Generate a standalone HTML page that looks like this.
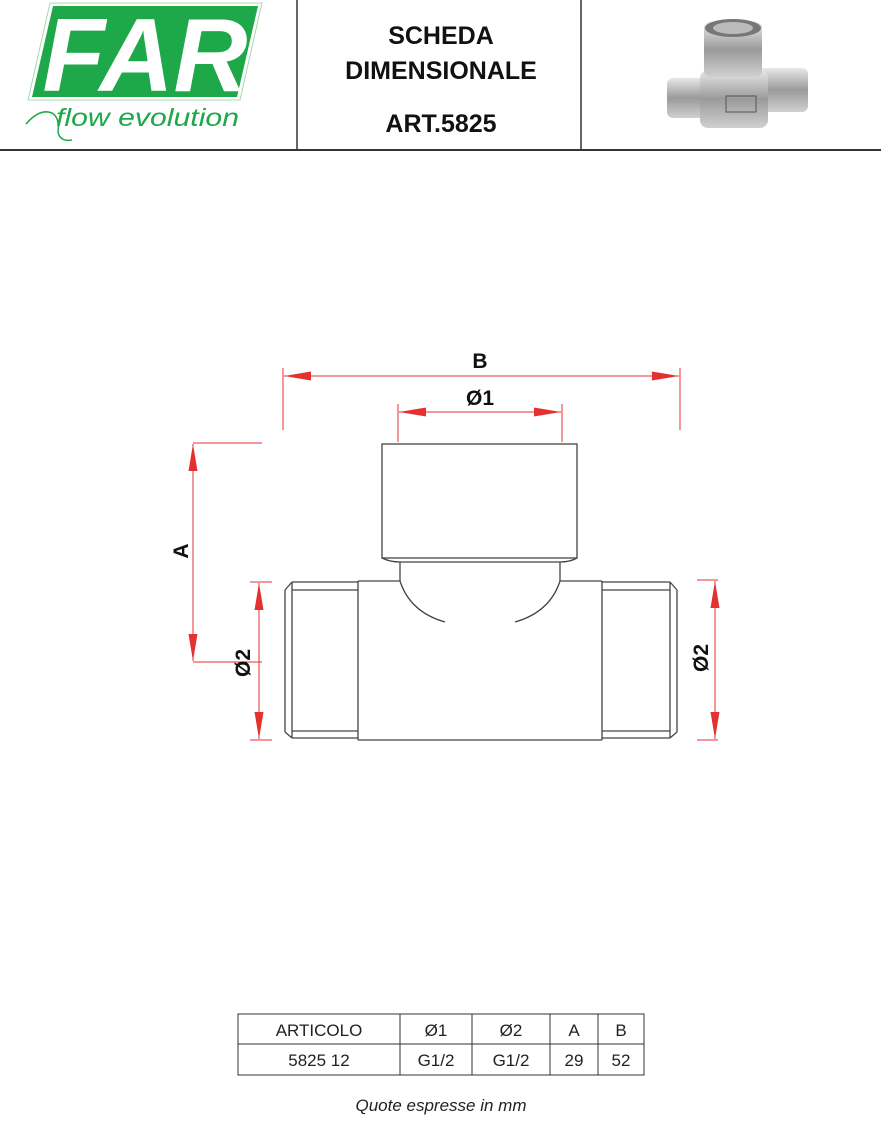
<!DOCTYPE html>
<html><head><meta charset="utf-8"><style>
body{margin:0;background:#fff;width:881px;height:1135px;overflow:hidden;font-family:"Liberation Sans",sans-serif}
svg{display:block}
</style></head><body>
<svg width="881" height="1135" viewBox="0 0 881 1135" xmlns="http://www.w3.org/2000/svg">
<defs>
<marker id="ar" viewBox="0 0 10 10" refX="10" refY="5" markerWidth="9" markerHeight="9" markerUnits="userSpaceOnUse" orient="auto-start-reverse"><path d="M0,0 L10,5 L0,10 z" fill="#e53030"/></marker>
<marker id="al" viewBox="0 0 30 10" refX="30" refY="5" markerWidth="30" markerHeight="9" markerUnits="userSpaceOnUse" orient="auto-start-reverse"><path d="M0,0 L30,5 L0,10 z" fill="#e53030"/></marker>
<linearGradient id="met" x1="0" y1="0" x2="0" y2="1"><stop offset="0" stop-color="#e8e8e8"/><stop offset="0.5" stop-color="#9a9a9a"/><stop offset="1" stop-color="#d0d0d0"/></linearGradient>
</defs>
<!-- header -->
<line x1="0" y1="150" x2="881" y2="150" stroke="#333" stroke-width="2"/>
<line x1="297" y1="0" x2="297" y2="150" stroke="#333" stroke-width="1.5"/>
<line x1="581" y1="0" x2="581" y2="150" stroke="#333" stroke-width="1.5"/>
<polygon points="50,3 262,3 240,100 28,100" fill="#fff" stroke="#a8d8b0" stroke-width="1"/>
<polygon points="53,6 258,6 237,97 32,97" fill="#1ea84a"/>
<text x="145" y="91" text-anchor="middle" font-size="104" font-style="italic" font-weight="bold" fill="#fff" font-family="Liberation Sans" textLength="205" lengthAdjust="spacingAndGlyphs">FAR</text>
<path d="M26,124 Q40,108 52,113 Q60,118 58,132 Q60,142 72,140" fill="none" stroke="#1ea84a" stroke-width="1.5"/>
<text x="56" y="126" font-size="25" font-style="italic" fill="#1ea84a" textLength="183" lengthAdjust="spacingAndGlyphs">flow evolution</text>
<text x="441" y="44" text-anchor="middle" font-size="25" font-weight="bold" fill="#111">SCHEDA</text>
<text x="441" y="79" text-anchor="middle" font-size="25" font-weight="bold" fill="#111">DIMENSIONALE</text>
<text x="441" y="132" text-anchor="middle" font-size="25" font-weight="bold" fill="#111">ART.5825</text>
<!-- photo -->
<g>
<rect x="667" y="78" width="45" height="40" rx="6" fill="url(#met)"/>
<rect x="758" y="68" width="50" height="44" rx="6" fill="url(#met)"/>
<rect x="700" y="70" width="68" height="58" rx="8" fill="url(#met)"/>
<rect x="704" y="22" width="58" height="55" rx="6" fill="url(#met)"/>
<ellipse cx="733" cy="28" rx="28" ry="9" fill="#777"/>
<ellipse cx="733" cy="28" rx="20" ry="6" fill="#bbb"/>
<rect x="726" y="96" width="30" height="16" fill="none" stroke="#555"/>
</g>
<!-- drawing -->
<g fill="none" stroke="#444" stroke-width="1.3">
<rect x="382" y="444" width="195" height="114"/>
<path d="M382,558 Q390,562 400,562 L560,562 Q570,562 577,558"/>
<path d="M400,562 V581 M560,562 V581"/>
<path d="M400,581 Q410,612 445,622 M560,581 Q550,612 515,622"/>
<path d="M358,581 H400 M560,581 H602"/>
<path d="M358,740 H602"/>
<path d="M358,581 V740 M602,581 V740"/>
<path d="M292,582 H358 M292,738 H358 M292,582 V738 M285,590 L292,582 M285,732 L292,738 M285,590 V732 M292,590 H358 M292,731 H358"/>
<path d="M602,582 H670 M602,738 H670 M670,582 V738 M677,590 L670,582 M677,732 L670,738 M677,590 V732 M602,590 H670 M602,731 H670"/>
</g>
<g stroke="#e53030" stroke-width="1" fill="none">
<line x1="283" y1="368" x2="283" y2="430"/><line x1="680" y1="368" x2="680" y2="430"/>
<line x1="284" y1="376" x2="679" y2="376" marker-start="url(#al)" marker-end="url(#al)"/>
<line x1="398" y1="404" x2="398" y2="442"/><line x1="562" y1="404" x2="562" y2="442"/>
<line x1="399" y1="412" x2="561" y2="412" marker-start="url(#al)" marker-end="url(#al)"/>
<line x1="193" y1="443" x2="262" y2="443"/><line x1="193" y1="662" x2="262" y2="662"/>
<line x1="193" y1="444" x2="193" y2="661" marker-start="url(#al)" marker-end="url(#al)"/>
<line x1="250" y1="582" x2="272" y2="582"/><line x1="250" y1="740" x2="272" y2="740"/>
<line x1="259" y1="583" x2="259" y2="739" marker-start="url(#al)" marker-end="url(#al)"/>
<line x1="697" y1="580" x2="718" y2="580"/><line x1="697" y1="740" x2="718" y2="740"/>
<line x1="715" y1="581" x2="715" y2="739" marker-start="url(#al)" marker-end="url(#al)"/>
</g>
<g font-weight="bold" font-size="21" fill="#111" text-anchor="middle">
<text x="480" y="368">B</text>
<text x="480" y="405">Ø1</text>
<text transform="translate(188,551) rotate(-90)">A</text>
<text transform="translate(250,663) rotate(-90)">Ø2</text>
<text transform="translate(708,658) rotate(-90)">Ø2</text>
</g>
<!-- table -->
<g stroke="#333" stroke-width="1" fill="none">
<rect x="238" y="1014" width="406" height="61"/>
<line x1="238" y1="1044" x2="644" y2="1044"/>
<line x1="400" y1="1014" x2="400" y2="1075"/>
<line x1="472" y1="1014" x2="472" y2="1075"/>
<line x1="550" y1="1014" x2="550" y2="1075"/>
<line x1="598" y1="1014" x2="598" y2="1075"/>
</g>
<g font-size="17" fill="#222" text-anchor="middle">
<text x="319" y="1036">ARTICOLO</text><text x="436" y="1036">Ø1</text><text x="511" y="1036">Ø2</text><text x="574" y="1036">A</text><text x="621" y="1036">B</text>
<text x="319" y="1066">5825 12</text><text x="436" y="1066">G1/2</text><text x="511" y="1066">G1/2</text><text x="574" y="1066">29</text><text x="621" y="1066">52</text>
<text x="441" y="1111" font-style="italic" font-size="17">Quote espresse in mm</text>
</g>
</svg>
</body></html>
